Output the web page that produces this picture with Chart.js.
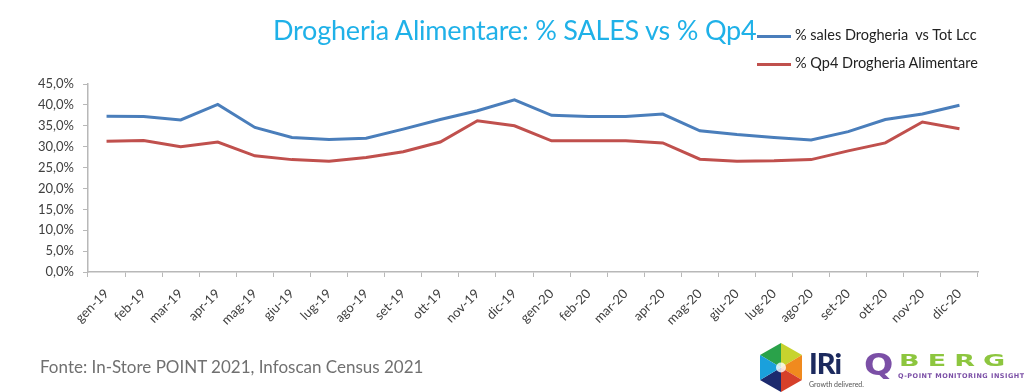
<!DOCTYPE html>
<html>
<head>
<meta charset="utf-8">
<script src="https://cdn.jsdelivr.net/npm/chart.js@4.4.1/dist/chart.umd.min.js"></script>
<style>
    body { margin: 0; background: #fff; font-family: Lato, "Open Sans", sans-serif; }
    #wrap { position: relative; width: 1024px; height: 392px; overflow: hidden; }
    #chart { position: absolute; left: 0; top: 0; }
    #title { position: absolute; left: 273px; top: 13px; font-size: 27px; color: #1fb1e8; white-space: nowrap; letter-spacing: -0.2px; }
    #legend { position: absolute; left: 757px; top: 25px; font-size: 14.5px; color: #222; }
    #legend ul { list-style: none; margin: 0; padding: 0; }
    #legend li { height: 28px; line-height: 20px; white-space: nowrap; }
    #legend .legend-dots { display: inline-block; width: 34px; height: 3px; vertical-align: middle; margin-right: 4px; }
    #source { position: absolute; left: 40px; top: 356px; font-size: 17px; color: #707070; white-space: nowrap; }
    #iri { position: absolute; left: 759px; top: 343px; }
    #iriText { position: absolute; left: 809px; top: 345px; font: 900 29px Lato, sans-serif; color: #1c2a5e; letter-spacing: -1px; }
    #iriSub { position: absolute; left: 809px; top: 380px; font-size: 7px; color: #555; white-space: nowrap; }
    #qbergQ { position: absolute; left: 864px; top: 347px; font: bold 30px "DejaVu Sans", sans-serif; color: #7b4fa6; transform: scaleX(1.15); transform-origin: top left; }
    #qbergRest { position: absolute; left: 899px; top: 352px; font: bold 20px "DejaVu Sans", sans-serif; color: #8dc63f; letter-spacing: 6px; transform: scale(1.35, 0.75); transform-origin: top left; white-space: nowrap; }
    #qbergSub { position: absolute; left: 898px; top: 372px; font: bold 6.5px "DejaVu Sans", sans-serif; color: #7b4fa6; letter-spacing: 0.5px; white-space: nowrap; }
</style>
</head>
<body>
<div id="wrap">
    <canvas id="chart" width="1024" height="392"></canvas>
    <div id="title">Drogheria Alimentare: % SALES vs % Qp4</div>
    <div id="legend"></div>
    <div id="source">Fonte: In-Store POINT 2021, Infoscan Census 2021</div>
    <svg id="iri" width="44" height="49" viewBox="0 0 44 49">
        <polygon points="22,0 22,24.5 1,12" fill="#2aa24a"/>
        <polygon points="22,0 43,12 22,24.5" fill="#c7d32e"/>
        <polygon points="43,12 43,37 22,24.5" fill="#f08a1e"/>
        <polygon points="43,37 22,49 22,24.5" fill="#d6402a"/>
        <polygon points="22,49 1,37 22,24.5" fill="#1c2a6e"/>
        <polygon points="1,37 1,12 22,24.5" fill="#1aa0dc"/>
        <circle cx="22" cy="24.5" r="5" fill="#fff" opacity="0.8"/>
    </svg>
    <div id="iriText">IRi</div>
    <div id="iriSub">Growth delivered.</div>
    <div id="qbergQ">Q</div>
    <div id="qbergRest">BERG</div>
    <div id="qbergSub">Q-POINT MONITORING INSIGHT</div>
</div>
<script>
var months = ["gen-19", "feb-19", "mar-19", "apr-19", "mag-19", "giu-19", "lug-19", "ago-19", "set-19", "ott-19", "nov-19", "dic-19",
    "gen-20", "feb-20", "mar-20", "apr-20", "mag-20", "giu-20", "lug-20", "ago-20", "set-20", "ott-20", "nov-20", "dic-20"];
var salesDrogheria = [37.3, 37.2, 36.4, 40.1, 34.6, 32.2, 31.7, 32.0, 34.2, 36.5, 38.6, 41.2,
    37.5, 37.2, 37.2, 37.8, 33.8, 32.9, 32.2, 31.6, 33.6, 36.5, 37.8, 39.9];
var qp4Drogheria = [31.3, 31.5, 30.0, 31.1, 27.8, 26.9, 26.5, 27.4, 28.8, 31.1, 36.2, 35.0,
    31.4, 31.4, 31.4, 30.9, 27.0, 26.5, 26.6, 26.9, 29.0, 30.9, 35.9, 34.3];
var seriesLabels = ["% sales Drogheria  vs Tot Lcc", "% Qp4 Drogheria Alimentare"];
var seriesColors = ["#4a7ebb", "#c0504d"];
var yMax = 45;
var yStep = 5;

var ctx = document.getElementById("chart").getContext("2d");
var chart = new Chart(ctx, {
    type: "line",
    data: {
        labels: months,
        datasets: [
            {
                label: seriesLabels[0],
                data: salesDrogheria,
                borderColor: seriesColors[0],
                backgroundColor: seriesColors[0],
                borderWidth: 3,
                pointRadius: 0,
                tension: 0,
            },
            {
                label: seriesLabels[1],
                data: qp4Drogheria,
                borderColor: seriesColors[1],
                backgroundColor: seriesColors[1],
                borderWidth: 3,
                pointRadius: 0,
                tension: 0,
            },
        ],
    },
    options: {
        responsive: false,
        animation: false,
        layout: {
            padding: { top: 84, right: 46, left: 0, bottom: 0 },
        },
        plugins: {
            legend: { display: false },
            title: { display: false },
            tooltip: { enabled: false },
        },
        scales: {
            x: {
                offset: true,
                grid: {
                    offset: true,
                    drawOnChartArea: false,
                    tickLength: 5,
                    color: "#b8b8b8",
                },
                border: { color: "#b8b8b8", width: 1.5 },
                ticks: {
                    maxRotation: 45,
                    minRotation: 45,
                    autoSkip: false,
                    padding: 9,
                    color: "#404040",
                    font: { family: "Lato", size: 13 },
                },
                afterFit: function (scale) {
                    scale.height = 120;
                },
            },
            y: {
                min: 0,
                max: yMax,
                grid: {
                    drawOnChartArea: false,
                    tickLength: 5,
                    color: "#b8b8b8",
                },
                border: { color: "#b8b8b8", width: 1.5 },
                ticks: {
                    stepSize: yStep,
                    padding: 9,
                    color: "#404040",
                    font: { family: "Lato", size: 13 },
                    callback: function (v) {
                        return v.toFixed(1).replace(".", ",") + "%";
                    },
                },
                afterFit: function (scale) {
                    scale.width = 88;
                },
            },
        },
    },
});

// custom legend next to the title
var text = [];
text.push("<ul>");
for (var i = 0; i < chart.data.datasets.length; i++) {
    text.push('<li><span class="legend-dots" style="background-color:' +
        chart.data.datasets[i].borderColor + '"></span>' + chart.data.datasets[i].label.replace(/  /g, " &nbsp;") + "</li>");
}
text.push("</ul>");
document.getElementById("legend").innerHTML = text.join("");
</script>
</body>
</html>
